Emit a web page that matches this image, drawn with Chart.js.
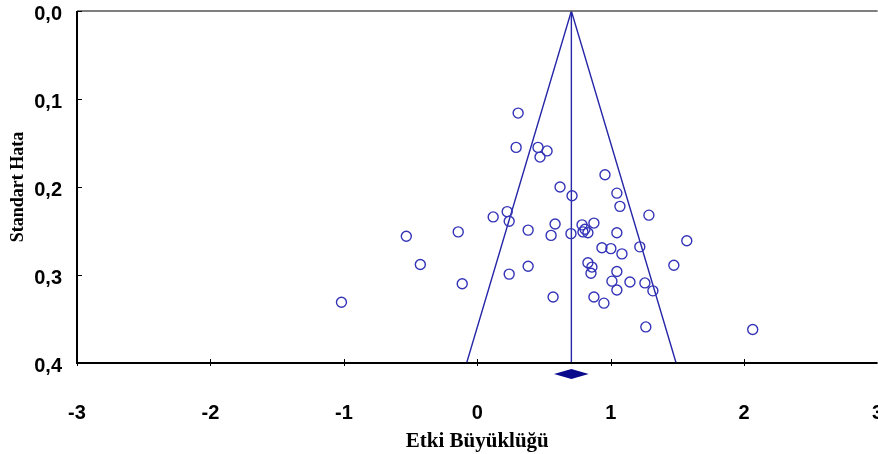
<!DOCTYPE html>
<html lang="tr">
<head>
  <meta charset="UTF-8">
  <title>Huni Grafiği</title>
  <script src="https://cdn.jsdelivr.net/npm/chart.js@4.4.3/dist/chart.umd.min.js"></script>
  <style>
    html, body {
      margin: 0;
      padding: 0;
      background: #ffffff;
      overflow: hidden;
    }
    .wrap {
      width: 884px;
      height: 454px;
    }
  </style>
</head>
<body>
  <div class="wrap">
    <canvas id="funnel" width="884" height="454"></canvas>
  </div>

  <script>
    // study effect sizes (x) and their standard errors (y)
    const effectSizes = [
      0.306, 0.291, 0.455, 0.523, 0.470, 0.957, 0.620, 0.710, 1.046, 1.069,
      1.286, 0.119, 0.224, 0.239, -0.143, 0.381, 0.583, 0.553, 0.702, 0.785,
      0.807, 0.792, 0.829, 0.874, 1.046, 1.570, 0.934, 1.001, 1.218, 1.084,
      1.473, 0.829, 0.859, 0.852, 1.046, 1.009, 1.144, 1.256, 1.316, 1.046,
      0.874, 0.949, 1.263, 0.381, 0.239, -0.113, 0.568, -0.532, -0.427, -1.018,
      2.064
    ];
    const standardErrors = [
      0.116, 0.155, 0.155, 0.159, 0.166, 0.186, 0.200, 0.210, 0.207, 0.222,
      0.232, 0.234, 0.228, 0.239, 0.251, 0.249, 0.242, 0.255, 0.253, 0.243,
      0.248, 0.251, 0.252, 0.241, 0.252, 0.261, 0.269, 0.270, 0.268, 0.276,
      0.289, 0.286, 0.291, 0.298, 0.296, 0.307, 0.308, 0.309, 0.318, 0.317,
      0.325, 0.332, 0.359, 0.290, 0.299, 0.310, 0.325, 0.256, 0.288, 0.331,
      0.362
    ];

    // summary effect and funnel limits at the bottom of the plot
    const meanEffect = 0.705;
    const funnelBottom = [-0.08, 1.49];   // left, right at SE = 0.4
    const diamondRange = [0.575, 0.835];  // width of the summary diamond

    // axis ranges and tick labels
    const xTicks = [-3, -2, -1, 0, 1, 2, 3];
    const yTicks = ['0,0', '0,1', '0,2', '0,3', '0,4'];
    const seMax = 0.4;

    const blue = '#3434b8';
    const lineBlue = '#2626a8';
    const tickFont = { family: '"Liberation Sans", Arial, sans-serif', size: 20, weight: 'bold' };

    const points = effectSizes.map((x, i) => ({ x: x, y: standardErrors[i] }));

    // tick marks inside the frame, border, and summary diamond
    const extras = {
      id: 'extras',
      afterDraw(chart) {
        const ctx = chart.ctx;
        const area = chart.chartArea;
        const xs = chart.scales.x;
        const ys = chart.scales.y;
        ctx.save();

        // frame
        ctx.strokeStyle = '#555555';
        ctx.lineWidth = 1.5;
        ctx.beginPath();
        ctx.moveTo(area.left, area.top);
        ctx.lineTo(area.right, area.top);
        ctx.stroke();
        ctx.strokeStyle = '#000000';
        ctx.lineWidth = 2;
        ctx.beginPath();
        ctx.moveTo(area.left, area.top);
        ctx.lineTo(area.left, area.bottom);
        ctx.lineTo(area.right, area.bottom);
        ctx.stroke();

        // tick marks
        ctx.lineWidth = 1;
        ctx.beginPath();
        xTicks.forEach(v => {
          const px = Math.round(xs.getPixelForValue(v)) + 0.5;
          ctx.moveTo(px, area.bottom - 4);
          ctx.lineTo(px, area.bottom + 3);
        });
        yTicks.forEach((t, i) => {
          const py = Math.round(ys.getPixelForValue(i / 10)) + 0.5;
          ctx.moveTo(area.left, py);
          ctx.lineTo(area.left + 5, py);
        });
        ctx.stroke();

        // summary diamond below the axis
        const cy = area.bottom + 11;
        ctx.fillStyle = '#0a0a8c';
        ctx.beginPath();
        ctx.moveTo(xs.getPixelForValue(diamondRange[0]), cy);
        ctx.lineTo(xs.getPixelForValue(meanEffect), cy - 5);
        ctx.lineTo(xs.getPixelForValue(diamondRange[1]), cy);
        ctx.lineTo(xs.getPixelForValue(meanEffect), cy + 5);
        ctx.closePath();
        ctx.fill();

        ctx.restore();
      }
    };

    const ctxChart = document.getElementById('funnel').getContext('2d');
    const funnelChart = new Chart(ctxChart, {
      type: 'scatter',
      data: {
        datasets: [
          {
            label: 'Çalışmalar',
            data: points,
            pointStyle: 'circle',
            pointRadius: 5,
            pointHoverRadius: 5,
            pointBorderWidth: 1.4,
            pointBorderColor: blue,
            pointBackgroundColor: 'rgba(0,0,0,0)'
          },
          {
            label: 'Huni',
            type: 'line',
            data: [
              { x: funnelBottom[0], y: seMax },
              { x: meanEffect, y: 0 },
              { x: funnelBottom[1], y: seMax }
            ],
            borderColor: lineBlue,
            borderWidth: 1.4,
            pointRadius: 0,
            fill: false,
            tension: 0
          },
          {
            label: 'Ortalama',
            type: 'line',
            data: [
              { x: meanEffect, y: 0 },
              { x: meanEffect, y: seMax }
            ],
            borderColor: lineBlue,
            borderWidth: 1.4,
            pointRadius: 0,
            fill: false
          }
        ]
      },
      options: {
        responsive: false,
        animation: false,
        layout: { padding: { top: 11, right: 5, left: 0, bottom: 0 } },
        plugins: {
          legend: { display: false },
          tooltip: { enabled: false }
        },
        scales: {
          x: {
            type: 'linear',
            min: -3,
            max: 3,
            afterFit: s => {
              s.height = 91;
              s.paddingLeft = 0;
              s.paddingRight = 0;
            },
            afterBuildTicks: s => { s.ticks = xTicks.map(v => ({ value: v })); },
            grid: { display: false, drawTicks: false },
            border: { display: false },
            ticks: {
              padding: 38,
              maxRotation: 0,
              color: '#000000',
              font: tickFont
            },
            title: {
              display: true,
              text: 'Etki Büyüklüğü',
              color: '#000000',
              padding: { bottom: 0 },
              font: { family: '"Liberation Serif", "Times New Roman", serif', size: 21, weight: 'bold' }
            }
          },
          y: {
            type: 'linear',
            reverse: true,
            min: 0,
            max: seMax,
            afterFit: s => {
              s.width = 77;
              s.paddingTop = 0;
              s.paddingBottom = 0;
            },
            afterBuildTicks: s => { s.ticks = yTicks.map((t, i) => ({ value: i / 10 })); },
            grid: { display: false, drawTicks: false },
            border: { display: false },
            ticks: {
              padding: 15,
              labelOffset: 3,
              color: '#000000',
              callback: (v, i) => yTicks[i],
              font: tickFont
            },
            title: {
              display: true,
              text: 'Standart Hata',
              color: '#000000',
              padding: { top: 8 },
              font: { family: '"Liberation Serif", "Times New Roman", serif', size: 18, weight: 'bold' }
            }
          }
        }
      },
      plugins: [extras]
    });
  </script>
</body>
</html>
